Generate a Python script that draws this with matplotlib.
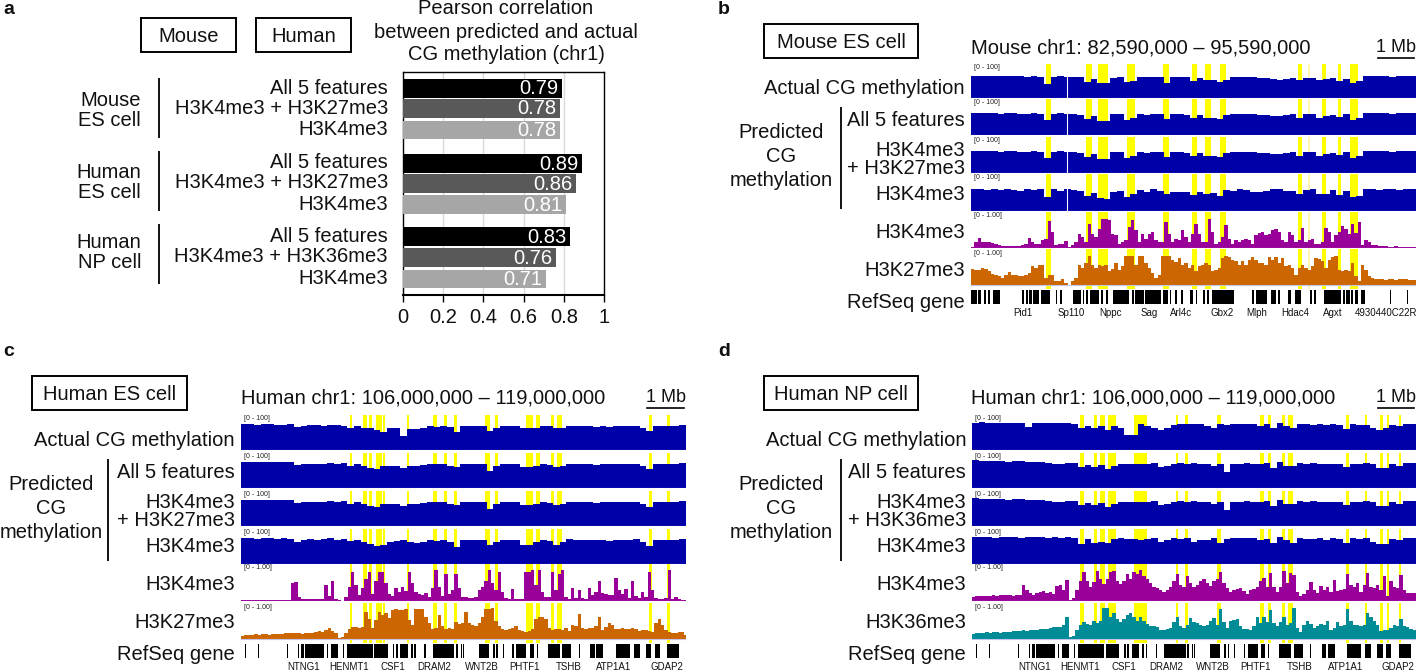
import numpy as np
import matplotlib
matplotlib.use("Agg")
import matplotlib.pyplot as plt

plt.rcParams['font.family'] = ['Liberation Sans', 'DejaVu Sans']
W, H = 1416, 670

# ---------- panel a data ----------
bar_labels = ["All 5 features", "H3K4me3 + H3K27me3", "H3K4me3",
              "All 5 features", "H3K4me3 + H3K27me3", "H3K4me3",
              "All 5 features", "H3K4me3 + H3K36me3", "H3K4me3"]
bar_values = [0.79, 0.78, 0.78, 0.89, 0.86, 0.81, 0.83, 0.76, 0.71]
bar_shades = ['#000000', '#595959', '#a6a6a6'] * 3
x_ticks = [0, 0.2, 0.4, 0.6, 0.8, 1]
x_tick_labels = ['0', '0.2', '0.4', '0.6', '0.8', '1']

# ---------- panel b data (window divided in bins) ----------
b_actual = [60,60,60,60,60,60,60,60,58,60, 58,40,57,60,58,58,58,44,52,42,
            42,56,58,44,46,58,57,58,58,43, 58,58,57,46,56,50,49,44,50,58,
            58,57,58,56,56,54,50,54,55,50, 56,56,50,52,55,48,54,42,46,60,
            60,60,60,59,60,60,60]
b_pred = [60,61,60,60,59,60,60,58,58,60, 58,42,58,60,58,58,56,44,53,38,
          38,57,58,42,48,58,56,58,58,45, 57,58,56,46,56,48,48,44,56,58,
          58,57,58,55,56,54,52,56,58,48, 58,58,48,52,56,50,58,42,46,60,
          60,60,60,59,60,60,60]
b_k4_meth = [60,62,58,60,57,62,58,56,60,58, 60,38,60,56,60,57,55,42,50,36,
             33,52,56,40,46,58,52,60,56,46, 52,54,52,44,54,46,50,42,58,56,
             60,58,54,52,55,60,62,56,55,46, 58,60,46,48,58,44,55,38,42,60,
             62,58,60,62,58,60,60]
b_k4 = [3,18,28,18,16,16,14,12,7,6, 5,5,5,5,5,7,12,28,17,12,
        12,21,26,75,44,9,12,10,19,3, 7,17,40,31,17,68,40,31,54,80,
        80,79,40,35,12,17,21,58,77,49, 17,40,26,40,44,21,17,17,72,40,
        17,26,21,49,31,17,40,68,40,17, 17,81,44,12,17,31,63,26,12,21,
        17,21,26,21,12,35,42,44,35,40, 49,54,44,21,17,44,35,17,21,56,
        17,21,26,12,12,17,56,44,17,35, 44,60,54,40,68,42,72,7,21,17,
        7,7,5,5,5,4,4,5,4,4, 4,3,3,3]
b_k27 = [44,43,41,47,45,38,31,29,24,19, 29,35,29,29,26,24,29,33,52,47,
         56,56,19,29,29,12,10,17,6,1, 10,19,56,47,61,81,56,47,56,52,
         56,38,44,61,43,52,80,81,81,56, 81,80,61,47,33,19,29,80,81,81,
         70,63,75,56,61,47,56,38,52,56, 61,56,38,43,47,75,81,78,70,66,
         56,66,56,70,78,70,61,61,56,78, 70,78,61,75,52,56,47,29,47,56,
         47,43,52,75,72,66,47,70,78,81, 43,38,43,38,61,24,10,56,43,24,
         19,17,17,16,15,17,16,15,17,16, 16,15,14,14]
b_stripes = [(22.5,23.9),(34.5,36.2),(38.1,41),(46.7,49.1),(57.7,59.4),(66.4,67.8),
             (70.2,72),(74.7,76.6),(98.1,99.3),(105.3,106.5),(110.1,111),(113.7,116.2)]
b_pale = [(101.1,101.6)]
b_genes = [(0,1.8),(2.2,3),(4,4.6),(5,5.8),(6.6,8.6),(14.6,14.8),(15.2,16),(16.5,17),(17.5,18.2),
           (18.5,20.5),(21,23.8),(25.4,25.8),(26.6,27.2),(30.5,33),(33.5,34),(34.5,35.2),(35.7,38.5),
           (39,39.6),(40.5,41.2),(42.5,47.5),(48.2,49),(49.3,52),(52.3,57),(57.5,59),(59.7,60),
           (61.2,61.8),(63,63.6),(65.8,66.5),(67.4,67.8),(69.6,70.2),(70.8,71.4),(72.4,78.8),
           (82.4,82.6),(84.4,84.8),(85.6,88.8),(90.1,91.6),(92.1,92.6),(95.1,96.1),(97.1,99.1),
           (101.6,102.4),(102.8,103.6),(105.8,111.1),(111.6,112.2),(112.6,113.6),(114.1,114.6),
           (115.1,116.1),(117.1,118.1),(125.8,126.1),(130.8,131.1)]
b_gene_names = ["Pid1","Sp110","Nppc","Sag","Arl4c","Gbx2","Mlph","Hdac4","Agxt","4930440C22R"]
b_gene_pos = [15.7,30.2,41.7,53.4,62.9,75.4,85.7,97.3,108.5,124.4]
b_gap = 28.9

# ---------- panel c data ----------
c_actual = [71,71,70,71,71,70,70,71,64,68, 69,70,68,70,69,68,62,68,62,60,
            56,50,62,62,40,58,58,62,66,64, 66,64,50,68,68,68,66,52,62,68,
            68,66,60,60,62,66,66,60,62,68, 66,66,68,64,66,64,66,68,66,68,
            62,52,66,66,68,66,70]
c_pred = [72,72,71,72,72,71,71,72,64,66, 68,68,66,70,68,70,62,66,60,56,
          52,60,62,60,56,60,60,64,66,66, 66,62,58,66,68,66,66,48,62,68,
          68,66,58,58,62,68,64,58,62,68, 66,66,68,64,66,66,66,68,66,68,
          60,52,68,66,68,66,70]
c_k4_meth = [72,72,70,72,71,70,72,70,60,66, 69,68,70,71,68,70,64,66,60,56,
             50,54,62,64,66,60,58,62,66,64, 68,60,48,66,66,68,66,54,60,68,
             66,68,54,52,60,66,64,54,62,70, 66,66,68,66,66,64,68,66,66,70,
             60,50,66,66,68,66,70]
c_k4 = [2,2,2,2,3,3,3,2,3,3, 3,3,3,3,3,50,52,12,5,5,
        5,5,5,5,5,44,15,55,6,2, 1,12,40,80,45,18,35,60,80,20,
        55,80,80,50,20,15,35,25,40,28, 80,50,25,20,18,22,12,35,85,40,
        15,75,20,30,75,35,10,12,8,8, 12,30,40,55,85,50,30,80,25,8,
        5,32,5,5,5,80,80,85,45,85, 25,10,12,80,30,75,85,12,5,35,
        8,30,8,5,35,18,25,55,22,20, 18,18,65,30,20,32,8,55,15,8,
        25,10,80,30,8,5,5,8,85,5, 12,6,2,2]
c_k27 = [8,10,11,12,13,12,13,15,12,13, 14,13,14,17,18,16,18,18,15,16,
         16,17,20,22,20,25,30,22,18,3, 6,18,28,34,32,30,34,75,55,30,
         53,76,67,71,57,80,82,80,80,82, 53,40,82,82,82,60,45,28,30,68,
         35,28,30,28,48,42,45,75,45,38, 35,45,60,82,82,85,50,35,28,25,
         28,30,35,25,22,20,22,28,55,62, 62,55,30,25,28,28,25,30,22,38,
         35,70,30,28,30,30,35,60,25,32, 45,40,28,28,30,28,28,30,28,22,
         24,25,22,20,45,55,40,25,20,18, 18,20,20,12]
c_stripes = [(32.7,33.4),(36.6,37.8),(38.4,39.2),(40.6,42.2),(42.5,43.1),(49.9,50.5),
             (57.6,58.7),(60.9,61.8),(63.8,64.9),(73.3,74.8),(76.3,77.2),(85.5,87.6),
             (88.6,89.6),(93.1,93.9),(94.9,96.2),(122.4,123.2),(127.9,128.7)]
human_genes = [(1.2,1.4),(5.2,5.4),(13.8,14),(15.8,16),(17.2,17.5),(18,19),(19.2,25),(25.8,26.2),
               (27,29),(30.6,31),(31.8,39.5),(40,44),(45.5,46),(46.5,47),(47.8,50),(51,51.5),
               (52,52.5),(55,55.5),(57.5,60.5),(60.5,64),(64.5,65),(66,66.2),(66.6,66.9),(71.4,74.4),
               (75.6,76.1),(76.6,77.1),(78.6,78.9),(81.4,81.8),(82.6,85.6),(86.6,87.9),(88.8,89.1),
               (92.1,95.6),(96.4,99.1),(101.3,101.6),(104.8,106.1),(106.6,108.6),(112.4,116.6),
               (117.8,119.6),(121.4,123.1),(124.1,125.6),(127.8,131.4)]
human_gene_names = ["NTNG1","HENMT1","CSF1","DRAM2","WNT2B","PHTF1","TSHB","ATP1A1","GDAP2"]
human_gene_pos = [18.7,32.5,45.5,58.1,72.2,84.9,98.3,111.9,127.7]

# ---------- panel d data ----------
d_actual = [76,77,76,76,75,74,76,76,64,74, 75,76,74,74,74,72,60,68,62,66,
            56,68,62,42,42,72,68,62,56,62, 70,72,72,72,72,68,62,72,70,72,
            72,72,72,66,72,62,74,66,60,72, 72,70,72,70,72,70,58,72,70,70,
            60,56,60,70,68,72,72]
d_pred = [77,76,76,76,74,73,74,76,72,72, 72,70,68,68,70,70,58,64,58,64,
          52,62,66,66,68,68,66,70,58,62, 68,70,68,70,66,66,60,66,45,66,
          68,70,68,66,70,56,72,62,60,70, 68,70,68,66,68,66,58,68,68,70,
          66,56,56,66,62,70,70]
d_k4_meth = [76,76,74,72,74,76,74,72,74,76, 74,72,74,72,74,72,56,70,58,60,
             58,70,72,70,70,68,70,72,62,66, 72,70,72,60,68,68,72,58,70,72,
             72,72,72,66,70,58,74,66,58,72, 70,70,72,68,72,70,58,72,70,72,
             62,56,56,70,68,72,72]
d_k4 = [12,13,14,15,14,14,16,15,16,16, 16,17,15,16,17,45,30,22,18,22,
        25,28,22,25,20,42,45,30,58,3, 8,30,55,80,55,38,52,82,60,48,
        60,80,82,55,48,55,75,60,80,75, 85,70,60,50,40,35,30,25,30,40,
        55,75,45,40,70,50,40,45,55,62, 50,42,55,62,80,50,35,25,30,32,
        35,28,20,30,32,38,55,65,40,78, 40,25,38,82,50,78,72,25,15,20,
        30,52,30,22,42,30,40,25,58,28, 30,32,75,45,40,50,25,45,78,40,
        35,45,30,70,15,55,40,35,72,30, 22,22,22]
d_k36 = [15,17,16,18,19,18,20,19,18,19, 20,20,22,21,23,25,22,25,24,26,
         28,27,28,30,32,32,32,38,62,5, 8,25,38,48,42,40,50,45,50,85,
         85,62,72,55,48,55,68,72,60,50, 60,50,42,35,35,32,25,25,28,30,
         48,62,35,30,40,58,48,45,40,35, 38,50,58,40,82,48,30,50,52,55,
         35,28,28,25,35,60,45,62,48,80, 45,35,48,60,38,45,85,30,20,40,
         50,42,30,35,42,38,50,25,30,48, 35,38,82,50,40,38,35,40,72,60,
         50,40,22,25,25,30,38,35,55,35, 32,28,25]
d_stripes = [(32.5,33.4),(36.5,37.5),(38.4,39.7),(40.7,43.1),(48.6,52.4),(61,61.7),(63.9,64.8),
             (73.4,74.7),(86.3,87.6),(88.6,89.5),(92.8,93.7),(94.7,96.1),(111.9,112.8),
             (117.6,118.3),(122.2,123.2),(124.3,124.9),(127.8,128.6)]

# ---------- colours ----------
NAVY, PURPLE, ORANGE, TEAL = '#0000a8', '#990099', '#cc6600', '#008c96'
YELLOW, PALE, EDGE = '#ffff00', '#fff6b0', '#c4c4ec'
FS = 14.5

fig = plt.figure(figsize=(W / 100, H / 100), dpi=100)


def px_axes(l, t, r, b):
    return fig.add_axes([l / W, 1 - b / H, (r - l) / W, (b - t) / H])


ov = fig.add_axes([0, 0, 1, 1])
ov.set_xlim(0, W)
ov.set_ylim(H, 0)
ov.axis('off')


def label(x, y, s, ha='right', fs=FS, **kw):
    ov.text(x, y + 1, s, ha=ha, va='center', fontsize=fs, color='#111111', **kw)


def box(l, t, r, b, s):
    ov.add_patch(plt.Rectangle((l, t), r - l, b - t, fill=False, ec='black', lw=1.4))
    label((l + r) / 2, (t + b) / 2, s, ha='center')


def vline(x, t, b):
    ov.plot([x, x], [t, b], color='black', lw=1.3, solid_capstyle='butt')


# ---------- panel a ----------
label(3, 8, 'a', ha='left', fs=14, fontweight='bold')
box(141, 18, 236, 52, 'Mouse')
box(256, 18, 351, 52, 'Human')
for y, s in zip([8, 31, 53], ["Pearson correlation", "between predicted and actual",
                              "CG methylation (chr1)"]):
    label(506, y, s, ha='center')
for (y1, y2, a, b_, t, bt) in [(100, 120, 'Mouse', 'ES cell', 78, 138),
                               (172, 192, 'Human', 'ES cell', 151, 211),
                               (241, 261, 'Human', 'NP cell', 224, 284)]:
    label(141, y1, a)
    label(141, y2, b_)
    vline(159, t, bt)

ax = px_axes(403, 72, 604, 295)
bar_y = [88.5, 108.5, 130, 163.5, 183.5, 204.5, 236.5, 257.5, 279]
ax.barh(bar_y, bar_values, height=18.8, color=bar_shades, zorder=3)
ax.set_xlim(0, 1.0)
ax.set_ylim(295, 72)
ax.set_yticks([])
ax.set_xticks(x_ticks)
ax.set_xticklabels(x_tick_labels, fontsize=FS, color='#111111')
ax.tick_params(axis='x', length=5, width=1, pad=4)
ax.grid(axis='x', color='#d9d9d9', lw=1, zorder=0)
for s in ax.spines.values():
    s.set_linewidth(1)
ax.spines['bottom'].set_linewidth(1.5)
for y, v, s in zip(bar_y, bar_values, bar_labels):
    label(388, y - 1.5, s)
    ax.text(v - 0.015, y + 0.5, f'{v:.2f}', ha='right', va='center', color='white',
            fontsize=FS, zorder=4)


# ---------- genome browser panels ----------
def draw_track(l, r, t, b, vals, color, nb, stripes, pale=(), tag='[0 - 100]', gap=None,
               extra=0):
    a = px_axes(l, t, r, b + extra)
    a.axis('off')
    a.set_xlim(0, nb)
    a.set_ylim(-extra / 36 * 100, (b - t) / 36 * 100)
    for s, e in stripes:
        a.axvspan(s, e, color=YELLOW, lw=0, zorder=1)
    for s, e in pale:
        a.axvspan(s, e, color=PALE, lw=0, zorder=1)
    n = len(vals)
    edges = np.arange(n + 1) if n > 100 else np.linspace(0, nb, n + 1)
    a.stairs(vals, edges, baseline=0, fill=True, color=color, lw=0, zorder=2)
    a.axhline(0, color=EDGE, lw=0.8, zorder=3)
    if gap is not None:
        a.plot([gap, gap], [0, 100], color='white', lw=0.8, zorder=3)
    a.text(0.006, 0.9 if not extra else 0.88, tag, transform=a.transAxes, fontsize=5,
           color='#222222', ha='left', va='center', zorder=4)
    return a


def panel(letter, letter_xy, box_xy, title, title_xy, mb_x, label_x, pred_x, line_x,
          l, r, tops, bottoms, meth, sig1, sig2, sig2_color, names, stripes, pale, gap, nb,
          genes, gene_names, gene_pos):
    label(*letter_xy, letter, ha='left', fs=14, fontweight='bold')
    box(*box_xy)
    label(title_xy[0], title_xy[1], title, ha='left')
    label((mb_x[0] + mb_x[1]) / 2, title_xy[1], '1 Mb', ha='center', fs=13)
    ov.plot(mb_x, [title_xy[1] + 10.5] * 2, color='black', lw=1.2)
    for i, m in enumerate(meth):
        draw_track(l, r, tops[i], bottoms[i], m, NAVY, nb, stripes, pale, gap=gap)
    draw_track(l, r, tops[4], bottoms[4], sig1, PURPLE, nb, stripes, pale, tag='[0 - 1.00]')
    draw_track(l, r, tops[5], bottoms[5], sig2, sig2_color, nb, stripes, pale, tag='[0 - 1.00]',
               extra=4)
    off = bottoms[0]
    for dy, s in [(-11, 'Actual CG methylation'), (21, 'All 5 features'), (51, 'H3K4me3'),
                  (69, names[0]), (96, 'H3K4me3'), (133, 'H3K4me3'), (172, names[1]),
                  (204, 'RefSeq gene')]:
        label(label_x, off + dy, s)
    for dy, s in [(33, 'Predicted'), (58, 'CG'), (82, 'methylation')]:
        label(pred_x, off + dy, s, ha='center')
    vline(line_x, off + 9, off + 111)
    g = px_axes(l, bottoms[5] + 5, r, bottoms[5] + 19)
    g.axis('off')
    g.set_xlim(0, nb)
    g.set_ylim(0, 1)
    g.broken_barh([(s, e - s) for s, e in genes], (0, 1), facecolors='black', lw=0)
    gl = px_axes(l, bottoms[5] + 19, r, bottoms[5] + 33)
    gl.axis('off')
    gl.set_xlim(0, nb)
    gl.set_ylim(0, 1)
    for p, s in zip(gene_pos, gene_names):
        gl.text(p, 0.36, s, ha='center', va='center', fontsize=7, color='#111111')


panel('b', (718, 9), (764, 24, 918, 58, 'Mouse ES cell'),
      'Mouse chr1: 82,590,000 – 95,590,000', (971, 47), (1378, 1414), 965, 781, 841,
      971, 1416, [64, 99, 137, 174, 212, 249], [98, 135, 173, 211, 248, 285],
      [b_actual, b_pred, b_pred, b_k4_meth], b_k4, b_k27, ORANGE,
      ('+ H3K27me3', 'H3K27me3'), b_stripes, b_pale, b_gap, 133.5,
      b_genes, b_gene_names, b_gene_pos)
panel('c', (3, 350), (32, 376, 187, 410, 'Human ES cell'),
      'Human chr1: 106,000,000 – 119,000,000', (241, 397), (647, 684), 235, 51, 108,
      241, 686, [415, 453, 491, 529, 564, 603], [450, 488, 526, 564, 601, 639],
      [c_actual, c_pred, c_pred, c_k4_meth], c_k4, c_k27, ORANGE,
      ('+ H3K27me3', 'H3K27me3'), c_stripes, (), None, 133.5,
      human_genes, human_gene_names, human_gene_pos)
panel('d', (718, 350), (764, 376, 918, 410, 'Human NP cell'),
      'Human chr1: 106,000,000 – 119,000,000', (971, 397), (1378, 1414), 966, 781, 841,
      972, 1416, [415, 453, 491, 529, 564, 603], [450, 488, 526, 564, 601, 639],
      [d_actual, d_pred, d_pred, d_k4_meth], d_k4, d_k36, TEAL,
      ('+ H3K36me3', 'H3K36me3'), d_stripes, (), None, 133,
      human_genes, human_gene_names, human_gene_pos)

fig.savefig('out.png', dpi=100)
